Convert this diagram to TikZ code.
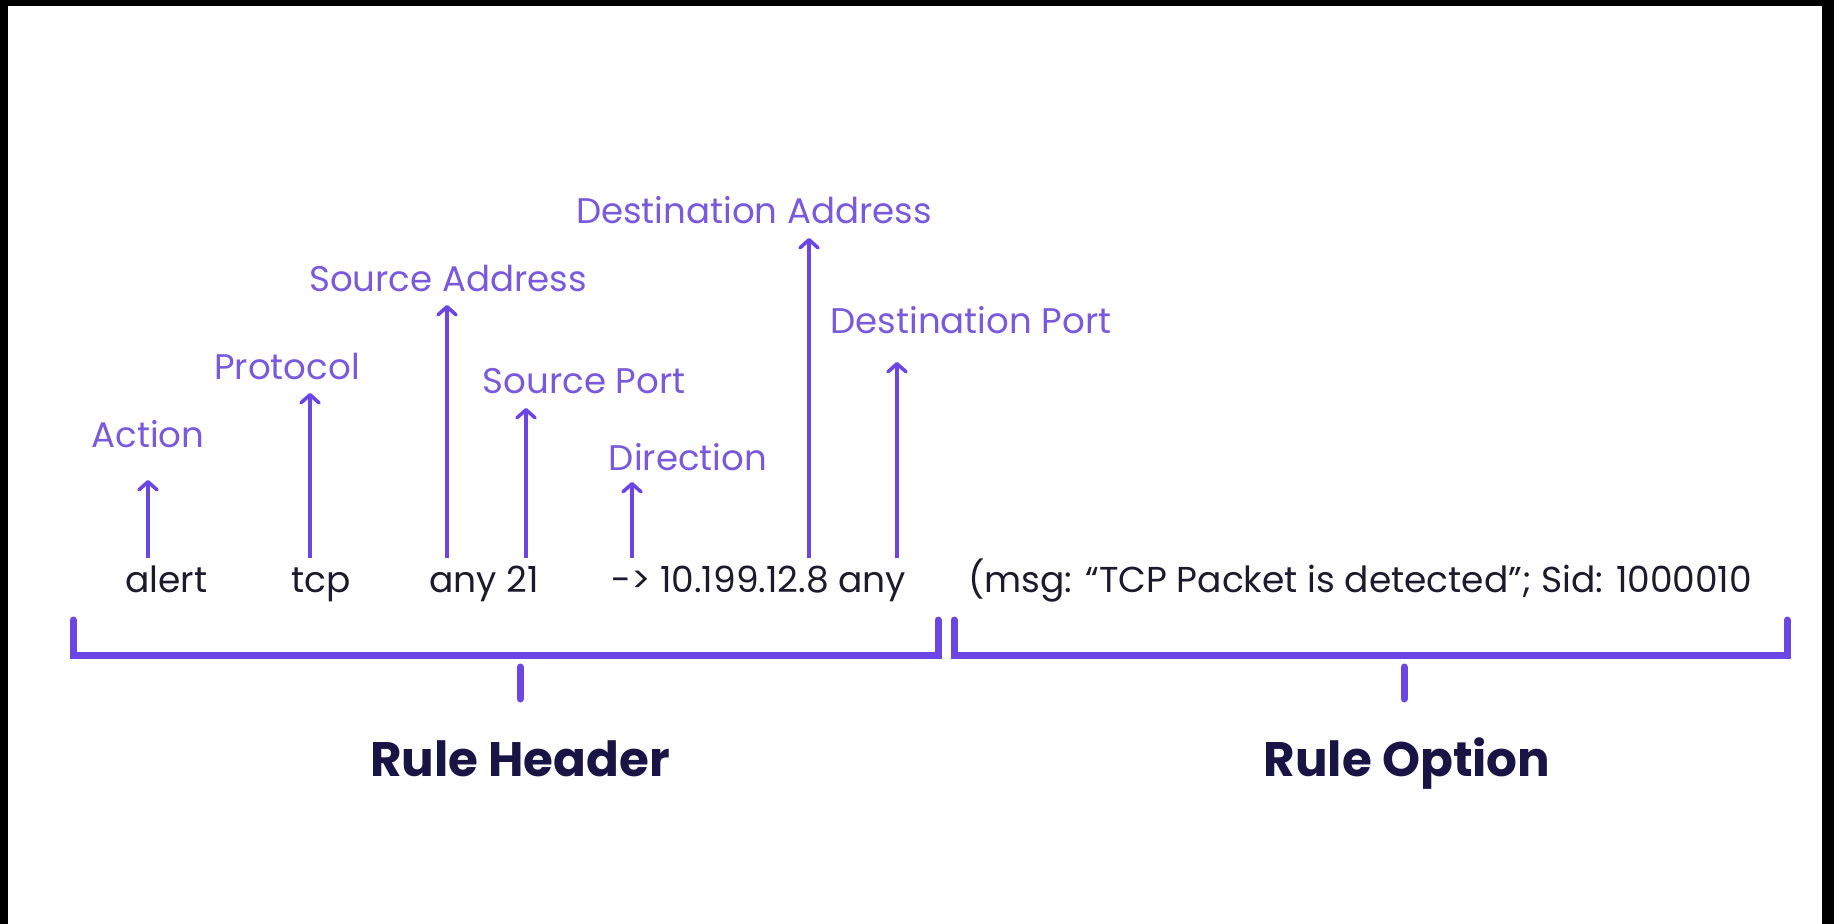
\documentclass[tikz,border=0pt]{standalone}
\usepackage{fontspec}
\setmainfont{Poppins}
\usepackage{xcolor}
\usetikzlibrary{arrows.meta,positioning}
\definecolor{ruleviolet}{HTML}{6B46E4}
\definecolor{tagviolet}{HTML}{7A5ADC}
\definecolor{inkdark}{HTML}{1D1B2B}
\definecolor{titlenavy}{HTML}{1A1445}
\tikzset{%
	field/.style   = {anchor=base west, inner sep=0pt, text=inkdark, font=\fontsize{18}{21}\selectfont}, % rule text
	tag/.style     = {anchor=base, inner sep=0pt, text=tagviolet, font=\fontsize{17.8}{21}\selectfont}, % field name
	part/.style    = {anchor=base, inner sep=0pt, text=titlenavy, font=\fontsize{24.2}{29}\selectfont\bfseries}, % rule part
	pointer/.style = {draw=ruleviolet, line width=1.8pt, -{Straight Barb[length=4pt,width=9pt,round]}},
	brace/.style   = {draw=ruleviolet, line width=3.5pt, line cap=round},
}

\begin{document}
\begin{tikzpicture}[x=0.5pt, y=-0.5pt]
	\useasboundingbox (0,0) rectangle (1834,924);
	\fill[black] (0,0) rectangle (1834,6);
	\fill[black] (0,0) rectangle (8,924);
	\fill[black] (1822,0) rectangle (1834,924);

	% the rule
	\node[field] (alert) at (125,592) {alert};
	\node[field] (tcp) at (291,592) {tcp};
	\node[field] (srcany) at (429,592) {any 21};
	\node[field] (dst) at (611,592) {-> 10.199.12.8 any};
	\node[field] (msg) at (968,592) {(msg: “TCP Packet is detected”; Sid: 1000010};

	% field names
	\node[tag] (action) at (148,448) {Action};
	\node[tag] (proto) at (287,380) {Protocol};
	\node[tag] (srcaddr) at (448,292) {Source Address};
	\node[tag] (srcport) at (584,394) {Source Port};
	\node[tag] (dir) at (688,470) {Direction};
	\node[tag] (dstaddr) at (754,224) {Destination Address};
	\node[tag] (dstport) at (971,334) {Destination Port};

	\coordinate (actB) at (148,558);  \coordinate (actT) at (148,480);
	\coordinate (proB) at (310,558);  \coordinate (proT) at (310,393);
	\coordinate (saB) at (447,558);   \coordinate (saT) at (447,305);
	\coordinate (spB) at (526,558);   \coordinate (spT) at (526,408);
	\coordinate (dirB) at (632,558);  \coordinate (dirT) at (632,482);
	\coordinate (daB) at (809,558);   \coordinate (daT) at (809,238);
	\coordinate (dpB) at (897,558);   \coordinate (dpT) at (897,362);
	\draw[pointer] (actB) -- (actT);
	\draw[pointer] (proB) -- (proT);
	\draw[pointer] (saB) -- (saT);
	\draw[pointer] (spB) -- (spT);
	\draw[pointer] (dirB) -- (dirT);
	\draw[pointer] (daB) -- (daT);
	\draw[pointer] (dpB) -- (dpT);

	% brackets
	\coordinate (hdrL) at (73,620);
	\coordinate (hdrR) at (938,620);
	\coordinate (optL) at (954,620);
	\coordinate (optR) at (1787,620);
	\draw[brace] (hdrL) -- ++(0,35) -| (hdrR);
	\draw[brace] (optL) -- ++(0,35) -| (optR);

	\node[part] (header) at (520,776) {Rule Header};
	\node[part] (option) at (1407,776) {Rule Option};
	\coordinate (hdrTick) at (520,667);
	\coordinate (optTick) at (1404,667);
	\draw[brace] (hdrTick) -- ++(0,32);
	\draw[brace] (optTick) -- ++(0,32);
\end{tikzpicture}
\end{document}
